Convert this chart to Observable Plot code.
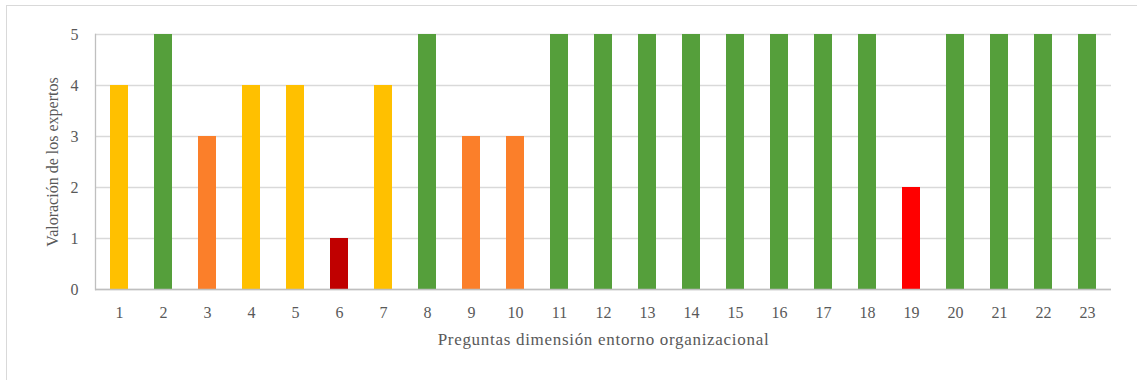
<!DOCTYPE html>
<html>
<head>
<meta charset="utf-8">
<script src="https://cdn.jsdelivr.net/npm/d3@7"></script>
<script src="https://cdn.jsdelivr.net/npm/@observablehq/plot@0.6"></script>
<style>
  html, body { margin: 0; padding: 0; background: #fff; }
  #wrap { position: relative; width: 1137px; height: 380px; overflow: hidden; }
  #border { position: absolute; left: 6px; top: 5px; width: 1200px; height: 400px;
            border: 1px solid #d9d9d9; box-sizing: border-box; }
  #chart { position: absolute; left: 0; top: 0; }
  #chart svg, #chart svg text {
    font-family: 'Liberation Serif', 'Times New Roman', serif !important;
    font-size: 16px !important;
  }
  #chart svg .ancho text { font-size: 17px !important; letter-spacing: 0.7px; }
</style>
</head>
<body>
<div id="wrap">
  <div id="border"></div>
  <div id="chart"></div>
</div>
<script>
// Preguntas de la dimensión entorno organizacional y su valoración
const preguntas = ["1","2","3","4","5","6","7","8","9","10","11","12","13","14","15","16","17","18","19","20","21","22","23"];
const valores   = [4, 5, 3, 4, 4, 1, 4, 5, 3, 3, 5, 5, 5, 5, 5, 5, 5, 5, 2, 5, 5, 5, 5];
const niveles   = [1, 2, 3, 4, 5];
const yTicks    = [0, 1, 2, 3, 4, 5];

const datos = preguntas.map((p, i) => ({pregunta: p, valor: valores[i]}));

const gris = "#595959";

const chart = Plot.plot({
  width: 1137,
  height: 380,
  marginLeft: 95,
  marginRight: 26,
  marginTop: 34,
  marginBottom: 91,
  style: {color: gris, background: "transparent"},
  x: {domain: preguntas, paddingInner: 0.59, paddingOuter: 0.295, label: null},
  y: {domain: [0, 5], label: null},
  color: {
    type: "ordinal",
    domain: niveles,
    range: ["#c00000", "#ff0000", "#fb7f2a", "#ffc000", "#559f3b"]
  },
  marks: [
    Plot.gridY(yTicks, {stroke: "#d9d9d9", strokeOpacity: 1, strokeWidth: 1.3}),
    Plot.barY(datos, {x: "pregunta", y: "valor", fill: d => d.valor}),
    Plot.ruleY([0], {stroke: "#bfbfbf", strokeWidth: 1.3}),
    Plot.frame({anchor: "left", stroke: "#bfbfbf", strokeWidth: 1.3}),
    Plot.axisY(yTicks, {tickSize: 0, tickPadding: 17, tickFormat: d3.format("d"), fill: gris, label: null}),
    Plot.axisX({tickSize: 0, tickPadding: 17, fill: gris, label: null}),
    Plot.text(["Valoración de los expertos"], {
      frameAnchor: "left", dx: -43, rotate: -90, fill: gris, textAnchor: "middle"
    }),
    Plot.text(["Preguntas dimensión entorno organizacional"], {
      frameAnchor: "bottom", dy: 55, fill: gris, textAnchor: "middle", className: "ancho"
    })
  ]
});

document.getElementById("chart").appendChild(chart);
</script>
</body>
</html>
